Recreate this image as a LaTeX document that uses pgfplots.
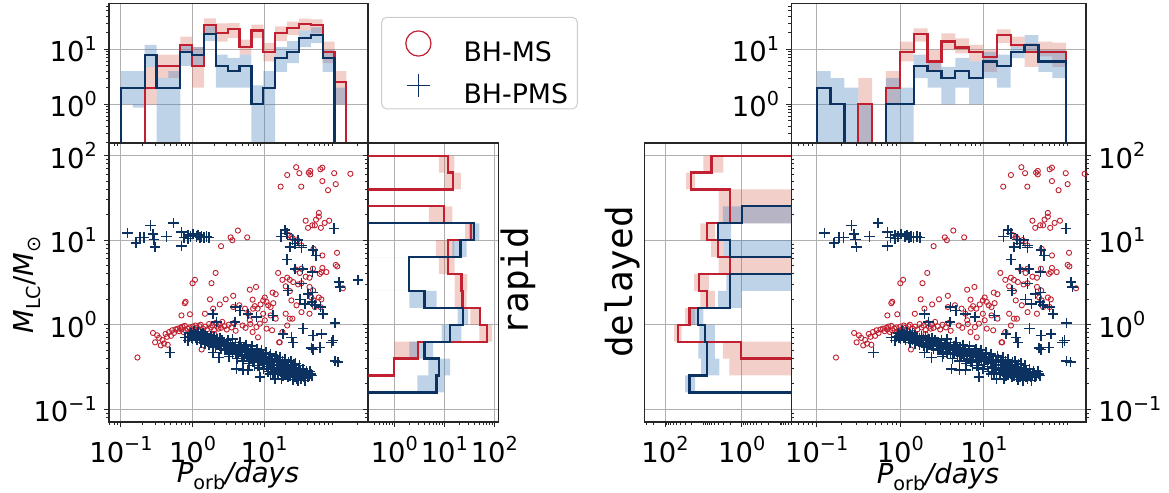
\documentclass[border=0pt]{standalone}
\usepackage{fontspec}
\setmainfont{DejaVu Sans}
\newfontfamily\monofont{DejaVu Sans Mono}
\usepackage{pgfplots}
\pgfplotsset{compat=1.18}
\usepackage{pgfplotstable}

\definecolor{cred}{RGB}{192,32,48}
\definecolor{cblue}{RGB}{12,50,97}
\definecolor{bred}{RGB}{214,96,77}
\definecolor{bblue}{RGB}{70,130,190}
\definecolor{gridc}{RGB}{176,176,176}

\newcommand\sups[1]{\raisebox{0.42em}{\fontsize{9.6}{10}\selectfont #1}}
\newcommand\subs[1]{\raisebox{-0.25em}{\fontsize{9.6}{10}\selectfont #1}}

% BH-MS scatter (P_orb [days], M_LC [Msun])
\pgfplotstableread{
P M
28 73
21 59
31 62
44 66
61 69
42 63
65 72
44 60
95 62
160 61
65 50
17 43
33 43
100 46
78 39
38 17
53 17.5
58 19
62 14
51 15
47 15
81 17
70 16
41 14
58 21
22 11.5
24 11
29 10
33 8.7
25 10.5
49 7.9
65 6.6
104 7.1
100 5.1
105 4.9
48 4.6
63 4.2
74 4.2
126 2.7
1.0 3.1
1.08 3.4
2.1 4.1
1.84 3.1
2.5 8.5
3.4 10.8
3.6 10
4.3 13
5.8 10.8
0.78 1.8
0.8 1.87
0.7 1.29
0.92 1.33
1.75 2.0
2.4 1.74
2.9 2.0
3.7 2.2
1.94 1.55
1.49 1.35
1.34 0.51
0.17 0.41
0.28 0.80
0.30 0.62
0.32 0.75
0.34 0.70
0.36 0.57
0.38 0.66
0.40 0.60
0.42 0.78
0.44 0.72
0.45 0.58
0.47 0.82
0.50 0.74
0.52 0.86
0.55 0.80
0.58 0.88
0.62 0.90
0.65 0.84
0.68 0.92
0.70 0.88
0.72 0.95
0.75 0.82
0.78 0.97
0.80 0.86
0.85 0.90
0.90 0.93
0.95 0.85
1.0 0.95
1.05 0.88
1.1 0.98
1.15 0.92
1.2 0.85
1.25 0.96
1.3 1.0
1.4 0.90
1.5 0.95
1.6 0.88
1.7 1.02
1.8 0.93
1.9 0.98
2.0 0.87
2.1 1.05
2.2 0.95
2.3 0.90
2.4 1.0
2.5 0.92
2.6 1.08
2.8 0.96
3.0 0.88
3.2 1.0
3.5 0.93
3.8 1.05
4.0 0.85
1.5 0.72
1.8 0.66
2.0 0.78
3.7 1.62
4.5 1.7
5.4 1.55
6.0 1.35
6.3 1.13
7.0 1.55
5.0 0.98
5.5 0.92
6.4 1.02
6.3 2.6
7.7 2.8
6.9 1.98
7.4 1.66
8.1 1.55
8.9 1.74
9.7 1.94
10.2 2.1
10.8 1.86
11.4 1.7
12.3 1.62
13.4 1.8
13.1 2.4
14.5 2.3
15.7 4.1
18 3.4
20 2.85
21 3.6
22.8 3.4
22.8 2.5
24 1.94
25.4 3.2
27.7 4.5
29.8 3.0
31.5 4.1
33.2 4.6
33.2 3.1
38 3.7
43 3.6
43 2.8
45.7 2.1
49 1.94
58 2.1
61 1.62
51 1.62
33.2 1.41
24.8 1.18
21 0.98
18 0.82
16.2 0.62
9.7 1.35
10.2 1.13
12.3 1.29
14.5 1.18
8.7 1.03
7.8 0.94
6.9 0.82
8.2 0.71
16.5 0.62
10.8 0.9
12.9 0.86
20 1.35
22.8 1.18
28.3 1.7
60 4.0
65 4.7
48.3 2.55
63 2.0
43 1.35
}\msdata

% BH-PMS scatter
\pgfplotstableread{
P M
0.124 12.2
0.162 9.3
0.184 10.8
0.21 10.8
0.26 15
0.28 11.8
0.29 10.2
0.30 8.3
0.43 11
0.54 16
0.70 12.6
0.76 10.8
0.70 8.5
0.87 11.5
0.94 11
1.02 11.8
1.14 11
1.27 10.8
1.34 11.1
1.44 10.8
1.57 11.1
1.71 10.8
0.87 10.5
1.2 11.5
19.4 13.1
21 12
17.1 11
24.8 10.2
26.8 9.1
29.8 10
33.2 8.7
22.8 8.3
33.2 8.2
48.3 7.6
52.6 6.6
95 13.7
21 5.9
26.8 4.6
34.3 4.6
47.2 4.2
21.6 2.55
33.2 3.06
47.2 2.4
41.1 2.3
31.5 1.98
36.9 1.77
46.8 1.86
51 1.7
61 1.62
66.5 1.35
97 1.05
110 3.2
114 2.8
205 3.36
4.0 1.62
4.6 1.48
6.0 1.35
7.8 1.23
13.4 1.29
18.4 0.78
24 0.71
25.4 0.62
35 0.9
48.3 0.75
63 0.78
45.7 0.53
48.3 0.51
87 0.62
92 0.65
97 0.37
108 0.36
60 0.54
2.16 1.08
1.94 1.35
3.9 1.08
2.36 0.41
4.1 0.30
5.1 0.29
6.0 0.29
7.0 0.36
8.2 0.33
8.7 0.24
12.3 0.26
14.1 0.23
17.4 0.23
19.4 0.26
3.3 0.45
1.94 0.47
0.48 0.47
0.87 0.65
0.97 0.71
0.78 0.71
0.9 0.72
0.95 0.80
1.0 0.68
1.0 0.76
1.05 0.84
1.1 0.70
1.1 0.78
1.15 0.66
1.2 0.74
1.2 0.82
1.25 0.69
1.3 0.77
1.3 0.62
1.35 0.72
1.4 0.80
1.4 0.66
1.45 0.70
1.5 0.75
1.5 0.60
1.55 0.68
1.6 0.73
1.6 0.64
1.7 0.70
1.7 0.58
1.75 0.66
1.8 0.74
1.8 0.61
1.9 0.67
1.9 0.56
2.0 0.71
2.0 0.62
2.1 0.65
2.1 0.54
2.2 0.68
2.2 0.60
2.3 0.63
2.4 0.57
2.4 0.70
2.5 0.61
2.5 0.52
2.6 0.65
2.7 0.58
2.8 0.62
2.8 0.50
2.9 0.56
3.0 0.60
3.0 0.52
3.1 0.66
3.2 0.55
3.3 0.48
3.4 0.58
3.5 0.53
3.6 0.62
3.6 0.47
3.8 0.55
3.9 0.50
4.0 0.58
4.0 0.45
4.2 0.52
4.4 0.56
4.4 0.47
4.6 0.50
4.8 0.54
4.8 0.44
5.0 0.49
5.2 0.53
5.3 0.42
5.5 0.47
5.6 0.51
5.8 0.44
6.0 0.48
6.2 0.40
6.3 0.46
6.6 0.50
6.8 0.43
7.0 0.46
7.2 0.38
7.4 0.44
7.8 0.48
8.0 0.41
8.2 0.36
8.5 0.43
8.8 0.39
9.0 0.45
9.3 0.37
9.6 0.42
10 0.39
10 0.34
10.5 0.41
11 0.37
11 0.32
11.5 0.40
12 0.35
12.5 0.38
12.5 0.31
13 0.36
13.5 0.33
14 0.38
14 0.30
15 0.34
15 0.29
16 0.36
16 0.31
17 0.33
17 0.28
18 0.35
18 0.30
19 0.27
19 0.32
20 0.34
20 0.29
21 0.26
21 0.31
22 0.33
22 0.28
23 0.25
23 0.30
24 0.32
24 0.27
25 0.24
25 0.29
26 0.31
26 0.26
27 0.28
27 0.24
28 0.30
28 0.26
29 0.23
29 0.27
30 0.29
30 0.25
31 0.26
32 0.24
32 0.28
34 0.25
34 0.27
36 0.26
36 0.24
38 0.25
40 0.26
42 0.25
45 0.26
3.2 0.42
3.6 0.68
4.2 0.40
4.6 0.62
5.1 0.37
5.6 0.58
6.1 0.35
6.7 0.56
7.3 0.33
8.0 0.52
8.6 0.31
9.2 0.50
9.8 0.30
10.6 0.47
11.3 0.28
12.2 0.45
13.2 0.27
14.5 0.43
15.5 0.26
16.8 0.41
18.2 0.25
19.5 0.39
21.5 0.24
23.5 0.37
25.5 0.225
27.5 0.35
29.5 0.22
31 0.33
33 0.23
35 0.30
37 0.22
39 0.28
41 0.24
44 0.28
47 0.25
12 0.42
15 0.39
18 0.37
22 0.36
26 0.34
}\pmsdata

\pgfplotsset{
  myax/.style={scale only axis,
    axis line style={black!85, line width=0.7pt},
    grid=major, major grid style={gridc, line width=0.5pt},
    tick style={black!85, line width=0.5pt},
    tick align=outside, major tick length=2.6pt, minor tick length=1.5pt,
    tick label style={font=\fontsize{13.7}{16}\selectfont},
    xticklabel style={inner sep=1pt, yshift=-3.5pt},
  },
  bandr/.style={fill=bred, fill opacity=0.3, draw=none},
  bandb/.style={fill=bblue, fill opacity=0.35, draw=none},
  stepr/.style={cred, line width=1.1pt},
  stepb/.style={cblue, line width=1.1pt},
  msmark/.style={only marks, mark=o, mark size=1.3pt, cred, mark options={line width=0.45pt}},
  pmsmark/.style={only marks, mark=+, mark size=2.6pt, cblue, mark options={line width=0.8pt}},
  minxl/.style={minor xtick={0.07,0.08,0.09,0.2,0.3,0.4,0.5,0.6,0.7,0.8,0.9,2,3,4,5,6,7,8,9,20,30,40,50,60,70,80,90,200}},
  minxr/.style={minor xtick={0.05,0.06,0.07,0.08,0.09,0.2,0.3,0.4,0.5,0.6,0.7,0.8,0.9,2,3,4,5,6,7,8,9,20,30,40,50,60,70,80,90,100}},
  minym/.style={minor ytick={0.08,0.09,0.2,0.3,0.4,0.5,0.6,0.7,0.8,0.9,2,3,4,5,6,7,8,9,20,30,40,50,60,70,80,90}},
  minyh/.style={minor ytick={0.2,0.3,0.4,0.5,0.6,0.7,0.8,0.9,2,3,4,5,6,7,8,9,20,30,40,50,60}},
}

\begin{document}
\begin{tikzpicture}
\useasboundingbox (0pt,0pt) rectangle (584.5pt,246.5pt);

% ---------- left top histogram ----------
\begin{loglogaxis}[myax, anchor=south west, at={(54.5pt,175.15pt)}, width=129.5pt, height=69.7pt,
  xmin=0.0681, xmax=282, ymin=0.2, ymax=68.6,
  xtick={0.1,1,10}, xticklabels={}, minxl,
  ytick={1,10}, yticklabels={10\sups{0},10\sups{1}}, minyh,
  xtick pos=left, ytick pos=left]
\addplot[bandr, const plot] coordinates {(0.1,0.001)(0.1464,0.001)(0.2145,4.8)(0.3142,8)(0.46,8)(0.6738,17)(0.9867,11)(1.445,36.6)(2.117,29.6)(3.1,30)(4.539,15)(6.647,28)(9.736,13)(14.26,26)(20.88,32)(30.59,36)(44.8,35)(65.61,13.8)(96.07,4)
 (140.7,1)(96.07,5.6)(65.61,19.5)(44.8,22)(30.59,18)(20.88,14)(14.26,6)(9.736,16)(6.647,8)(4.539,16)(3.1,13.8)(2.117,19.5)(1.445,2)(0.9867,8.5)(0.6738,3)(0.46,3)(0.3142,1)(0.2145,0.001)(0.1464,0.001)(0.1,0.001)};
\addplot[bandb, const plot] coordinates {(0.1,4)(0.1464,4)(0.2145,12)(0.3142,3)(0.46,4)(0.6738,12)(0.9867,11)(1.445,26)(2.117,8)(3.1,7)(4.539,8)(6.647,2.2)(9.736,4)(14.26,11)(20.88,14)(30.59,22)(44.8,25)(65.61,9.7)(96.07,2)
 (140.7,1)(96.07,3.9)(65.61,13)(44.8,11)(30.59,5.6)(20.88,3.9)(14.26,0.001)(9.736,0.001)(6.647,2)(4.539,2)(3.1,2)(2.117,14)(1.445,5)(0.9867,5)(0.6738,0.001)(0.46,0.001)(0.3142,4.8)(0.2145,0.87)(0.1464,1)(0.1,1)};
\addplot[stepr, const plot] coordinates {(0.1464,0.001)(0.2145,2)(0.3142,5)(0.46,5)(0.6738,12)(0.9867,5)(1.445,28)(2.117,19.5)(3.1,23)(4.539,11)(6.647,22)(9.736,9)(14.26,19.5)(20.88,24.5)(30.59,28.5)(44.8,27.5)(65.61,9)(96.07,2.5)(140.7,0.001)};
\addplot[stepb, const plot] coordinates {(0.1,0.001)(0.1,2)(0.1464,2)(0.2145,8)(0.3142,2)(0.46,2)(0.6738,9)(0.9867,8)(1.445,19)(2.117,5)(3.1,4)(4.539,5)(6.647,1)(9.736,2)(14.26,7)(20.88,9)(30.59,16)(44.8,18)(65.61,7)(96.07,0.001)};
\end{loglogaxis}

% ---------- left scatter ----------
\begin{loglogaxis}[myax, anchor=south west, at={(54.5pt,35.5pt)}, width=129.5pt, height=139.5pt,
  xmin=0.0681, xmax=282, ymin=0.0708, ymax=141,
  xtick={0.1,1,10}, xticklabels={10\sups{−1},10\sups{0},10\sups{1}}, minxl,
  ytick={0.1,1,10,100}, yticklabels={10\sups{−1},10\sups{0},10\sups{1},10\sups{2}}, minym,
  xtick pos=left, ytick pos=left]
\addplot[msmark] table[x=P,y=M] {\msdata};
\addplot[pmsmark] table[x=P,y=M] {\pmsdata};
\end{loglogaxis}

% ---------- rapid marginal ----------
\begin{loglogaxis}[myax, anchor=south west, at={(184.15pt,35.5pt)}, width=65pt, height=139.5pt,
  xmin=0.302, xmax=120, ymin=0.0708, ymax=141,
  xtick={1,10,100}, xticklabels={10\sups{0},10\sups{1},10\sups{2}},
  minor xtick={0.4,0.5,0.6,0.7,0.8,0.9,2,3,4,5,6,7,8,9,20,30,40,50,60,70,80,90},
  ytick={0.1,1,10,100}, yticklabels={}, minym,
  xtick pos=left, ytick pos=left]
\addplot[bandr] coordinates {(0.001,0.1585)(0.001,0.2512)(0.001,0.2512)(0.001,0.398)(3,0.398)(3,0.631)(90,0.631)(90,1)(52,1)(52,1.585)(28,1.585)(28,2.512)(29,2.512)(29,3.981)(16,3.981)(16,6.31)(15.8,6.31)(15.8,10)(40,10)(40,15.85)(14.5,15.85)(14.5,25.12)(0.001,25.12)(0.001,39.81)(21.5,39.81)(21.5,63.1)(15.8,63.1)(15.8,100)
 (7.8,100)(7.8,63.1)(10.3,63.1)(10.3,39.81)(0.001,39.81)(0.001,25.12)(4.9,25.12)(4.9,15.85)(26,15.85)(26,10)(6.8,10)(6.8,6.31)(7.8,6.31)(7.8,3.981)(16,3.981)(16,2.512)(16,2.512)(16,1.585)(33,1.585)(33,1)(50,1)(50,0.631)(1,0.631)(1,0.398)(0.001,0.398)(0.001,0.1585)};
\addplot[bandb] coordinates {(10,0.1585)(10,0.2512)(13,0.2512)(13,0.398)(6,0.398)(6,0.631)(22,0.631)(22,1)(30,1)(30,1.585)(7,1.585)(7,2.512)(0.001,2.512)(0.001,6.31)(28,6.31)(28,10)(50,10)(50,15.85)(0.001,15.85)
 (31,15.85)(31,10)(14.5,10)(14.5,6.31)(0.001,6.31)(0.001,2.512)(2,2.512)(2,1.585)(18.5,1.585)(18.5,1)(8.8,1)(8.8,0.631)(2,0.631)(2,0.398)(4.8,0.398)(4.8,0.2512)(2.9,0.2512)(2.9,0.1585)};
\addplot[stepr] coordinates {(0.001,0.2512)(1,0.2512)(1,0.398)(3,0.398)(3,0.631)(71,0.631)(71,1)(52,1)(52,1.585)(23,1.585)(23,2.512)(22,2.512)(22,3.981)(12,3.981)(12,6.31)(12,10)(34,10)(34,15.85)(10,15.85)(10,25.12)(0.001,25.12)(0.001,39.81)(15,39.81)(15,63.1)(12,63.1)(12,100)(0.001,100)};
\addplot[stepb] coordinates {(0.001,0.1585)(7,0.1585)(7,0.2512)(7.8,0.2512)(7.8,0.398)(4,0.398)(4,0.631)(13,0.631)(13,1)(24,1)(24,1.585)(4,1.585)(4,2.512)(2,2.512)(2,6.31)(21,6.31)(21,10)(39,10)(39,15.85)(0.001,15.85)};
\end{loglogaxis}

% ---------- delayed marginal ----------
\begin{loglogaxis}[myax, anchor=south west, at={(322.15pt,35.5pt)}, width=73.5pt, height=139.5pt,
  x dir=reverse, xmin=0.0509, xmax=347, ymin=0.0708, ymax=141,
  xtick={1,100}, xticklabels={10\sups{0},10\sups{2}},
  minor xtick={0.06,0.07,0.08,0.09,0.1,0.2,0.3,0.4,0.5,0.6,0.7,0.8,0.9,2,3,4,5,6,7,8,9,10,20,30,40,50,60,70,80,90,200,300},
  ytick={0.1,1,10,100}, yticklabels={}, minym,
  xtick pos=left, ytick pos=right]
\addplot[bandr] coordinates {(0.001,0.1585)(0.001,0.2512)(2.1,0.2512)(2.1,0.398)(3.1,0.398)(3.1,0.631)(58,0.631)(58,1)(30,1)(30,1.585)(12,1.585)(12,2.512)(17.5,2.512)(17.5,3.981)(4,3.981)(4,6.31)(6.3,6.31)(6.3,10)(12,10)(12,15.85)(4,15.85)(4,39.81)(28,39.81)(28,63.1)(10,63.1)(10,100)
 (3,100)(3,63.1)(16.5,63.1)(16.5,39.81)(0.001,39.81)(0.001,15.85)(5,15.85)(5,10)(3,10)(3,6.31)(0.001,6.31)(0.001,3.981)(7.2,3.981)(7.2,2.512)(5,2.512)(5,1.585)(16.5,1.585)(16.5,1)(37,1)(37,0.631)(0.001,0.631)(0.001,0.1585)};
\addplot[bandb] coordinates {(30,0.1585)(30,0.2512)(11.5,0.2512)(11.5,0.398)(13.5,0.398)(13.5,0.631)(12.7,0.631)(12.7,1)(23,1)(23,1.585)(4.1,1.585)(4.1,2.512)(2.5,2.512)(2.5,3.981)(0.001,3.981)(0.001,6.31)(3,6.31)(3,10)(4.1,10)(4.1,15.85)(3.1,15.85)(3.1,25.12)(0.001,25.12)
 (0.001,15.85)(1.9,15.85)(1.9,10)(0.001,10)(0.001,2.512)(1,2.512)(1,1.585)(10,1.585)(10,1)(5,1)(5,0.398)(3.8,0.398)(3.8,0.2512)(16.5,0.2512)(16.5,0.1585)};
\addplot[stepr] coordinates {(0.001,0.398)(1.05,0.398)(1.05,0.631)(45,0.631)(45,1)(23,1)(23,1.585)(7.9,1.585)(7.9,2.512)(13,2.512)(13,3.981)(2,3.981)(2,6.31)(4.1,6.31)(4.1,10)(7.9,10)(7.9,15.85)(2,15.85)(2,39.81)(21,39.81)(21,63.1)(6.1,63.1)(6.1,100)(0.001,100)};
\addplot[stepb] coordinates {(0.001,0.1585)(23,0.1585)(23,0.2512)(7.9,0.2512)(7.9,0.398)(8.2,0.398)(8.2,0.631)(9,0.631)(9,1)(13.5,1)(13.5,1.585)(2,1.585)(2,3.981)(0.001,3.981)(0.001,6.31)(2,6.31)(2,10)(4.1,10)(4.1,15.85)(1,15.85)(1,25.12)(0.001,25.12)};
\end{loglogaxis}

% ---------- right top histogram ----------
\begin{loglogaxis}[myax, anchor=south west, at={(395.65pt,175.15pt)}, width=147.35pt, height=69.7pt,
  xmin=0.0497, xmax=166, ymin=0.2, ymax=68.6,
  xtick={0.1,1,10}, xticklabels={}, minxr,
  ytick={1,10}, yticklabels={10\sups{0},10\sups{1}}, minyh,
  xtick pos=left, ytick pos=left]
\addplot[bandr, const plot] coordinates {(0.1,0.001)(0.1464,0.001)(0.2145,0.001)(0.3142,3)(0.46,0.001)(0.6738,4)(0.9867,13.8)(1.445,24)(2.117,9.7)(3.1,19.5)(4.539,15.8)(6.647,12)(9.736,9.7)(14.26,23)(20.88,17)(30.59,13)(44.8,13.8)(65.61,13.2)
 (96.07,4.8)(65.61,7.4)(44.8,4.8)(30.59,11)(20.88,13)(14.26,3.9)(9.736,6)(6.647,8.4)(4.539,9.7)(3.1,4.2)(2.117,13.8)(1.445,6)(0.9867,1)(0.6738,0.001)(0.46,0.001)(0.3142,0.001)(0.2145,0.001)(0.1464,0.001)(0.1,0.001)};
\addplot[bandb, const plot] coordinates {(0.1,4)(0.1464,3)(0.2145,2)(0.3142,1)(0.46,0.001)(0.6738,3)(0.9867,2)(1.445,8)(2.117,6)(3.1,4.8)(4.539,7)(6.647,6)(9.736,9)(14.26,8)(20.88,11.2)(30.59,18)(44.8,9.7)(65.61,9.7)
 (96.07,3)(65.61,3.9)(44.8,9)(30.59,6.9)(20.88,2)(14.26,3)(9.736,1)(6.647,2)(4.539,1)(3.1,2)(2.117,3)(1.445,0.001)(0.9867,0.001)(0.6738,0.001)(0.46,0.001)(0.3142,0.001)(0.2145,0.001)(0.1464,0.001)(0.1,0.001)};
\addplot[stepr, const plot] coordinates {(0.1,0.001)(0.3142,1)(0.46,0.001)(0.6738,2)(0.9867,9)(1.445,19)(2.117,6)(3.1,13.8)(4.539,10.8)(6.647,9)(9.736,7.2)(14.26,18)(20.88,11.8)(30.59,9)(44.8,9)(65.61,9)(96.07,0.001)};
\addplot[stepb, const plot] coordinates {(0.1,0.001)(0.1,2)(0.1464,1)(0.2145,0.001)(0.6738,1)(0.9867,1)(1.445,5)(2.117,4)(3.1,3)(4.539,4)(6.647,3)(9.736,6)(14.26,5)(20.88,9)(30.59,11.8)(44.8,6)(65.61,6)(96.07,0.001)};
\end{loglogaxis}

% ---------- right scatter ----------
\begin{loglogaxis}[myax, anchor=south west, at={(395.65pt,35.5pt)}, width=147.35pt, height=139.5pt,
  xmin=0.0497, xmax=166, ymin=0.0708, ymax=141,
  xtick={0.1,1,10}, xticklabels={10\sups{−1},10\sups{0},10\sups{1}}, minxr,
  ytick={0.1,1,10,100}, yticklabels={10\sups{−1},10\sups{0},10\sups{1},10\sups{2}}, minym,
  xtick pos=left, ytick pos=right, yticklabel pos=right]
\addplot[msmark] table[x=P,y=M] {\msdata};
\addplot[pmsmark] table[x=P,y=M] {\pmsdata};
\end{loglogaxis}

% ---------- legend ----------
\draw[black!20, fill=white, rounded corners=2.5pt, line width=0.5pt] (190.85pt,192.05pt) rectangle (288.65pt,237.85pt);
\begin{axis}[hide axis, scale only axis, anchor=north west, at={(190.85pt,237.85pt)},
  width=97.8pt, height=45.8pt, xmin=0, xmax=1, ymin=0, ymax=1,
  legend style={at={(0,1)}, anchor=north west, yshift=-2.3pt, draw=none, fill=none,
    inner sep=0pt, column sep=0pt, row sep=0pt, nodes={inner sep=0pt},
    font=\fontsize{13.4}{15}\selectfont},
  legend cell align=left,
  legend image code/.code={\path[draw=none, fill=none] (-18.15pt,-5.5pt) rectangle (22.6pt,15.3pt); \draw[#1] plot coordinates {(0pt,4.7pt)};}]
\addlegendimage{only marks, mark=o, mark size=6.3pt, cred, mark options={line width=0.6pt}}
\addlegendimage{only marks, mark=+, mark size=5.9pt, cblue, mark options={line width=0.9pt}}
\legend{BH-MS, BH-PMS}
\end{axis}

% ---------- labels ----------
\node[rotate=90, inner sep=0pt, font=\fontsize{13.7}{16}\selectfont] at (13.5pt,104pt) {\textit{M}\subs{LC}/\textit{M}\subs{⊙}};
\node[anchor=base, inner sep=0pt, font=\fontsize{13.7}{16}\selectfont] at (119pt,5.2pt) {\textit{P}\subs{orb}\textit{/days}};
\node[anchor=base, inner sep=0pt, font=\fontsize{13.7}{16}\selectfont] at (469pt,4.8pt) {\textit{P}\subs{orb}\textit{/days}};
\node[rotate=90, inner sep=0pt, font=\monofont\fontsize{18}{20}\selectfont] at (259pt,106pt) {rapid};
\node[rotate=90, inner sep=0pt, font=\monofont\fontsize{18}{20}\selectfont] at (311pt,105.5pt) {delayed};
\end{tikzpicture}
\end{document}
